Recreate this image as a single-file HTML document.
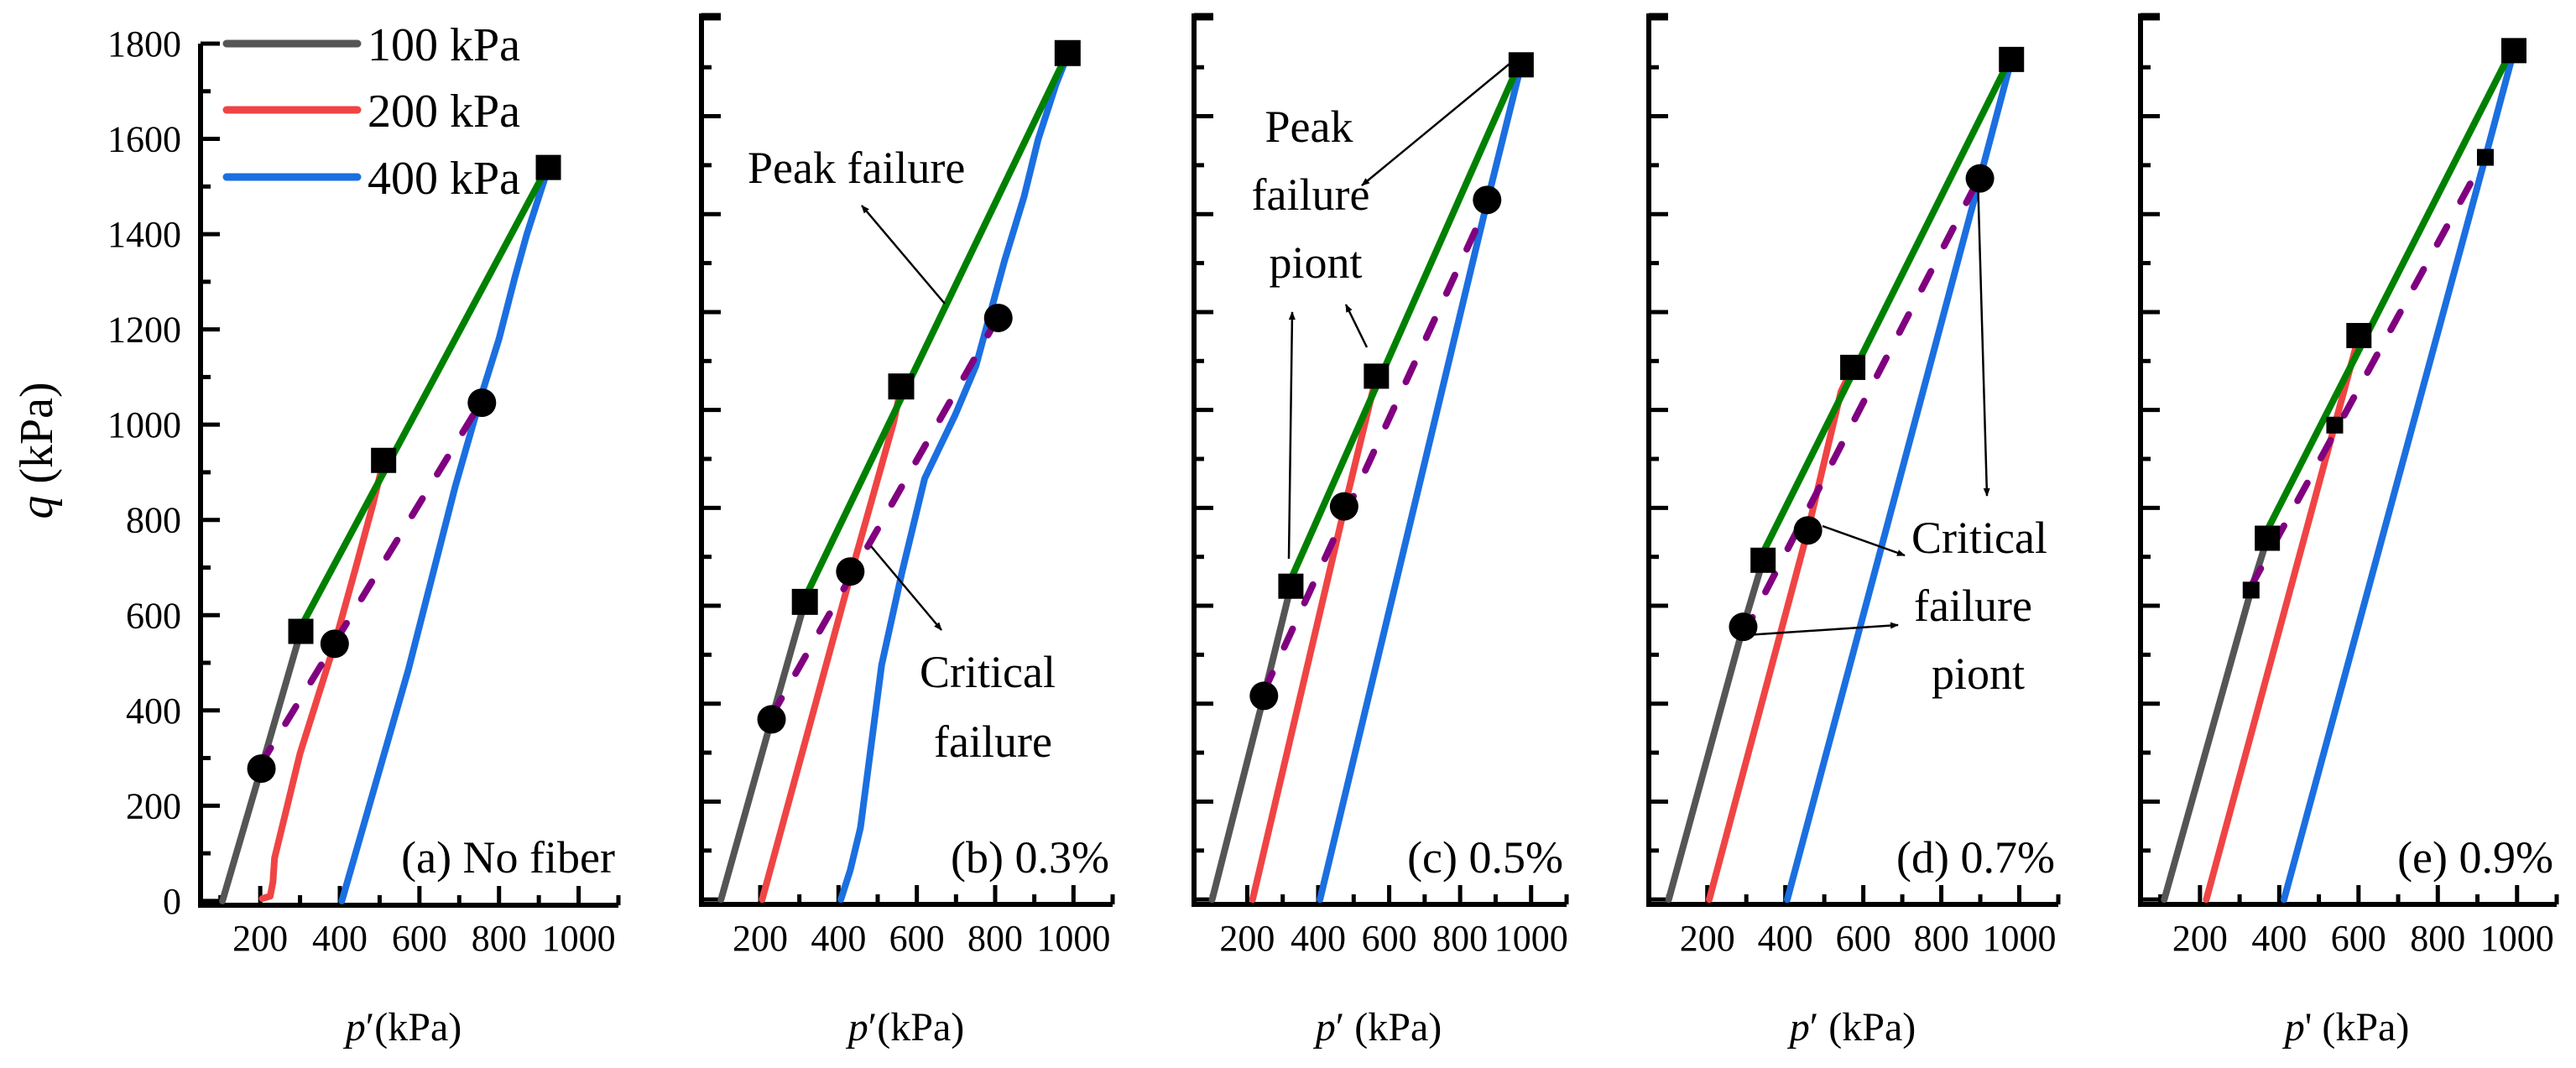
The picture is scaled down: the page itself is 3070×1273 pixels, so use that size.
<!DOCTYPE html>
<html><head><meta charset="utf-8"><style>
html,body{margin:0;padding:0;background:#fff;}
svg{display:block;}
svg text{font-family:"Liberation Serif","DejaVu Serif","Times New Roman",serif;}
</style></head><body>
<svg id="chart" width="3070" height="1273" viewBox="0 0 3070 1273" xmlns="http://www.w3.org/2000/svg" font-family="Liberation Serif, DejaVu Serif, serif">
<defs><marker id="ah" markerWidth="10" markerHeight="8" refX="9" refY="4" orient="auto" markerUnits="userSpaceOnUse" viewBox="0 0 10 8"><path d="M0,0 L10,4 L0,8 z" fill="#000"/></marker></defs>
<text x="0" y="0" font-size="56" font-family="Liberation Serif, DejaVu Serif, serif" text-anchor="middle" transform="translate(62,537) rotate(-90)"><tspan font-style="italic">q</tspan> (kPa)</text>
</svg>
<script>
// ---- data (p', q in kPa) ----
const xTicks = [200, 400, 600, 800, 1000];
const yTicks = [0, 200, 400, 600, 800, 1000, 1200, 1400, 1600, 1800];
const legendLabels = ["100 kPa", "200 kPa", "400 kPa"];
const panelLabels = ["(a) No fiber", "(b) 0.3%", "(c) 0.5%", "(d) 0.7%", "(e) 0.9%"];
const axisTitles = ["\u2032(kPa)", "\u2032(kPa)", "\u2032 (kPa)", "\u2032 (kPa)", "' (kPa)"];

const aGray = [[105,0],[203,280],[302,566]];
const aRed = [[205,5],[225,10],[232,40],[236,90],[300,310],[387,540],[440,700],[484,835],[510,925]];
const aBlue = [[405,0],[572,485],[690,870],[755,1060],[800,1180],[840,1310],[870,1400],[924,1540]];
const aSquares = [[302,566],[510,925],[924,1540]];
const aCircles = [[203,278],[387,540],[757,1046]];
const aPeakLine = [[302,575],[924,1545]];
const aCritLine = [[200,285],[757,1050]];

const bGray = [[100,0],[229,368],[314,608]];
const bRed = [[205,0],[430,660],[541,975],[560,1048]];
const bBlue = [[406,0],[430,60],[456,147],[510,479],[562,668],[620,860],[698,990],[751,1090],[824,1305],[874,1436],[910,1553],[955,1664],[985,1725]];
const bSquares = [[314,608],[560,1048],[985,1729]];
const bCircles = [[229,368],[430,670],[808,1188]];
const bPeakLine = [[316,619],[989,1736]];
const bCritLine = [[229,375],[797,1175]];

const cGray = [[101,0],[247,416],[323,640]];
const cRed = [[215,0],[475,803],[564,1069]];
const cBlue = [[405,0],[876,1425],[972,1705]];
const cSquares = [[323,640],[564,1069],[972,1705]];
const cCircles = [[247,416],[473,803],[876,1429]];
const cPeakLine = [[323,654],[972,1716]];
const cCritLine = [[247,425],[876,1419]];

const dGray = [[101,0],[292,557],[343,693]];
const dRed = [[205,0],[458,754],[543,1038],[573,1087]];
const dBlue = [[405,0],[899,1473],[980,1716]];
const dSquares = [[343,693],[573,1087],[980,1716]];
const dCircles = [[292,557],[458,754],[899,1473]];
const dPeakLine = [[343,709],[980,1723]];
const dCritLine = [[292,540],[888,1460]];

const eGray = [[110,0],[329,632],[370,738]];
const eRed = [[216,0],[540,969],[601,1152]];
const eBlue = [[412,0],[920,1516],[992,1734]];
const eBigSquares = [[370,738],[601,1152],[992,1734]];
const eSmallSquares = [[329,632],[540,969],[920,1516]];
const ePeakLine = [[370,755],[992,1744]];
const eCritLine = [[329,640],[904,1495]];

// ---- layout (pixels) ----
const panels = [
 {id:"a", left:239, right:737, top:52, bottom:1079, qMin:-9, qMax:1800, titleX:481},
 {id:"b", left:836, right:1326, top:16, bottom:1078, qMin:-10, qMax:1810, titleX:1080},
 {id:"c", left:1423, right:1867, top:16, bottom:1078, qMin:-10, qMax:1810, titleX:1643},
 {id:"d", left:1965, right:2453, top:16, bottom:1078, qMin:-10, qMax:1810, titleX:2208},
 {id:"e", left:2551, right:3047, top:16, bottom:1078, qMin:-10, qMax:1810, titleX:2797}
];
const pMin = 50, pMax = 1100;
const NS = "http://www.w3.org/2000/svg";
const FONT = "Liberation Serif, DejaVu Serif, serif";
const svg = document.getElementById("chart");
const COL = {gray:"#555555", red:"#f04444", blue:"#1b6fe0", green:"#008000", purple:"#800080"};

function xs(P, p){ return P.left + (p - pMin) * (P.right - P.left) / (pMax - pMin); }
function ys(P, q){ return P.bottom - (q - P.qMin) * (P.bottom - P.top) / (P.qMax - P.qMin); }
function mk(tag, attrs, parent){
  const el = document.createElementNS(NS, tag);
  for (const k in attrs) el.setAttribute(k, attrs[k]);
  (parent || svg).appendChild(el);
  return el;
}
function pathD(P, pts){ return pts.map((pt,i)=>(i?"L":"M")+xs(P,pt[0]).toFixed(1)+","+ys(P,pt[1]).toFixed(1)).join(" "); }

function series(P, g, pts, color, name, dashed){
  const el = mk("path", {d:pathD(P,pts), fill:"none", stroke:color, "stroke-width":8, "stroke-linecap":"round", "stroke-linejoin":"round"}, g);
  if (dashed) el.setAttribute("stroke-dasharray", "24 34");
  
  
}
function squares(P, g, pts, size, name){
  pts.forEach(pt=>{
    const el = mk("rect", {x:xs(P,pt[0])-size/2, y:ys(P,pt[1])-size/2, width:size, height:size, fill:"#000"}, g);
    
    
  });
}
function circles(P, g, pts, name){
  pts.forEach(pt=>{
    const el = mk("circle", {cx:xs(P,pt[0]), cy:ys(P,pt[1]), r:17, fill:"#000"}, g);
    
    
  });
}
function arrow(g, x1, y1, x2, y2, name){
  const el = mk("line", {x1:x1, y1:y1, x2:x2, y2:y2, stroke:"#000", "stroke-width":2.5, "marker-end":"url(#ah)"}, g);
  
  
}
function txt(g, x, y, s, size, anchor, name){
  const el = mk("text", {x:x, y:y, "font-size":size, "font-family":FONT, "text-anchor":anchor||"start", fill:"#000"}, g);
  el.textContent = s;
  
  
  return el;
}

panels.forEach((P, idx)=>{
  const g = mk("g", {});
  
  
  const yAx = mk("line", {x1:P.left, y1:P.top, x2:P.left, y2:P.bottom+3, stroke:"#000", "stroke-width":6}, g);
  
  
  const xAx = mk("line", {x1:P.left-3, y1:P.bottom, x2:P.right, y2:P.bottom, stroke:"#000", "stroke-width":6}, g);
  
  
  for (let q = 0; q <= 1800; q += 100) {
    const y = ys(P, q);
    const len = (q % 200 === 0) ? 23 : 12;
    const t = mk("line", {x1:P.left, y1:y, x2:P.left+len, y2:y, stroke:"#000", "stroke-width":5}, g);
    
    
  }
  if (P.id !== "a") {
    const t = mk("line", {x1:P.left, y1:P.top+2, x2:P.left+23, y2:P.top+2, stroke:"#000", "stroke-width":5}, g);
    
    
  }
  for (let p = 100; p <= 1100; p += 100) {
    const x = xs(P, p);
    const len = (p % 200 === 0) ? 23 : 12;
    const t = mk("line", {x1:x, y1:P.bottom, x2:x, y2:P.bottom-len, stroke:"#000", "stroke-width":5}, g);
    
    
  }
  xTicks.forEach(v=>{ txt(g, xs(P,v), 1133, String(v), 44, "middle", "x-tick-label"); });
  if (P.id === "a") yTicks.forEach(v=>{ txt(g, 216, ys(P,v)+15, String(v), 44, "end", "y-tick-label"); });
  const tt = txt(g, P.titleX, 1240, "", 48, "middle", "x-axis-title");
  const ts1 = document.createElementNS(NS, "tspan"); ts1.setAttribute("font-style","italic"); ts1.textContent = "p"; tt.appendChild(ts1);
  const ts2 = document.createElementNS(NS, "tspan"); ts2.textContent = axisTitles[idx]; tt.appendChild(ts2);
  txt(g, P.right - 4, 1040, panelLabels[idx], 54, "end", "panel-label");
});

const [PA, PB, PC, PD, PE] = panels;
function drawPanel(P, gray, red, blue, peak, crit){
  const g = mk("g", {});
  
  
  series(P, g, gray, COL.gray, "line-100kpa");
  series(P, g, red, COL.red, "line-200kpa");
  series(P, g, blue, COL.blue, "line-400kpa");
  series(P, g, crit, COL.purple, "critical-state-line", true);
  series(P, g, peak, COL.green, "peak-failure-line");
  return g;
}
let g;
g = drawPanel(PA, aGray, aRed, aBlue, aPeakLine, aCritLine);
squares(PA, g, aSquares, 30, "peak-point"); circles(PA, g, aCircles, "critical-point");
g = drawPanel(PB, bGray, bRed, bBlue, bPeakLine, bCritLine);
squares(PB, g, bSquares, 31, "peak-point"); circles(PB, g, bCircles, "critical-point");
g = drawPanel(PC, cGray, cRed, cBlue, cPeakLine, cCritLine);
squares(PC, g, cSquares, 30, "peak-point"); circles(PC, g, cCircles, "critical-point");
g = drawPanel(PD, dGray, dRed, dBlue, dPeakLine, dCritLine);
squares(PD, g, dSquares, 30, "peak-point"); circles(PD, g, dCircles, "critical-point");
g = drawPanel(PE, eGray, eRed, eBlue, ePeakLine, eCritLine);
squares(PE, g, eBigSquares, 30, "peak-point"); squares(PE, g, eSmallSquares, 20, "critical-point");

const legG = mk("g", {});


const legCols = [COL.gray, COL.red, COL.blue];
const legY = [52, 131, 211];
legendLabels.forEach((s,i)=>{
  const l = mk("line", {x1:270, y1:legY[i], x2:426, y2:legY[i], stroke:legCols[i], "stroke-width":9, "stroke-linecap":"round"}, legG);
  
  
  txt(legG, 438, legY[i]+20, s, 56, "start", "legend-entry");
});

const an = mk("g", {});


txt(an, 891, 218, "Peak failure", 54, "start", "peak-failure-note");
arrow(an, 1126, 362, 1027, 245, "peak-arrow");
txt(an, 1096, 819, "Critical", 54, "start", "critical-failure-note");
txt(an, 1113, 902, "failure", 54, "start", "critical-failure-note");
arrow(an, 1038, 651, 1122, 751, "critical-arrow");

txt(an, 1560, 169, "Peak", 54, "middle", "peak-failure-point-note");
txt(an, 1562, 250, "failure", 54, "middle", "peak-failure-point-note");
txt(an, 1568, 331, "piont", 54, "middle", "peak-failure-point-note");
arrow(an, 1810, 67, 1623, 221, "peak-arrow");
arrow(an, 1536, 666, 1540, 372, "peak-arrow");
arrow(an, 1629, 414, 1604, 363, "peak-arrow");

txt(an, 2278, 659, "Critical", 54, "start", "critical-failure-point-note");
txt(an, 2281, 740, "failure", 54, "start", "critical-failure-point-note");
txt(an, 2302, 821, "piont", 54, "start", "critical-failure-point-note");
arrow(an, 2357, 210, 2368, 591, "critical-arrow");
arrow(an, 2172, 627, 2270, 662, "critical-arrow");
arrow(an, 2081, 757, 2262, 745, "critical-arrow");
</script>
</body></html>
